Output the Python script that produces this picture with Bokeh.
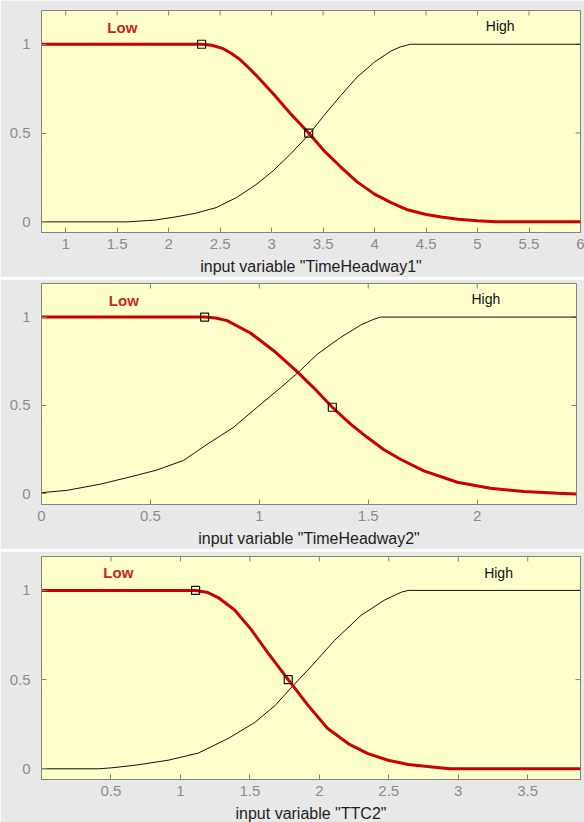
from bokeh.plotting import figure
from bokeh.layouts import column
from bokeh.models import Range1d, FixedTicker, NumeralTickFormatter
from bokeh.core.properties import value
from bokeh.embed import file_html
from bokeh.resources import INLINE

# ---------------- data ----------------
# Panel 1: TimeHeadway1
p1_xlim = [0.765, 6.0]
p1_xticks = [1, 1.5, 2, 2.5, 3, 3.5, 4, 4.5, 5, 5.5, 6]
p1_low_x = [0.765, 2.32, 2.42, 2.53, 2.61, 2.69, 2.77, 2.85, 3.02, 3.18, 3.36, 3.51, 3.67, 3.83, 4.00, 4.16, 4.32, 4.49, 4.65, 4.81, 5.0, 5.17, 6.0]
p1_low_y = [1, 1, 0.994, 0.975, 0.948, 0.915, 0.872, 0.825, 0.718, 0.612, 0.50, 0.40, 0.31, 0.225, 0.156, 0.108, 0.068, 0.043, 0.027, 0.015, 0.006, 0, 0]
p1_high_x = [0.765, 1.6, 1.87, 2.07, 2.26, 2.46, 2.66, 2.85, 3.02, 3.18, 3.36, 3.51, 3.67, 3.83, 4.00, 4.16, 4.25, 4.35, 6.0]
p1_high_y = [0, 0, 0.01, 0.028, 0.048, 0.08, 0.137, 0.21, 0.29, 0.38, 0.49, 0.60, 0.71, 0.815, 0.90, 0.962, 0.985, 1, 1]
p1_mark_x = [2.32, 3.36]
p1_mark_y = [1.0, 0.5]
p1_label_x = [1.55, 5.22]
p1_label_y = [1.096, 1.10]
p1_title = 'input variable "TimeHeadway1"'

# Panel 2: TimeHeadway2
p2_xlim = [0.0, 2.456]
p2_xticks = [0, 0.5, 1, 1.5, 2]
p2_low_x = [0, 0.749, 0.80, 0.852, 0.959, 1.066, 1.166, 1.25, 1.335, 1.419, 1.495, 1.572, 1.648, 1.755, 1.909, 2.06, 2.215, 2.37, 2.456]
p2_low_y = [1, 1, 0.995, 0.98, 0.91, 0.81, 0.70, 0.60, 0.49, 0.395, 0.32, 0.25, 0.196, 0.13, 0.066, 0.032, 0.013, 0.003, 0]
p2_high_x = [0, 0.117, 0.27, 0.42, 0.53, 0.653, 0.76, 0.88, 0.99, 1.097, 1.19, 1.266, 1.373, 1.465, 1.52, 1.556, 2.456]
p2_high_y = [0.007, 0.02, 0.055, 0.10, 0.135, 0.19, 0.28, 0.375, 0.49, 0.60, 0.70, 0.79, 0.885, 0.955, 0.985, 1.0, 1.0]
p2_mark_x = [0.749, 1.335]
p2_mark_y = [1.0, 0.49]
p2_label_x = [0.378, 2.04]
p2_label_y = [1.094, 1.10]
p2_title = 'input variable "TimeHeadway2"'

# Panel 3: TTC2
p3_xlim = [0.0, 3.88]
p3_xticks = [0.5, 1, 1.5, 2, 2.5, 3, 3.5]
p3_low_x = [0, 1.109, 1.19, 1.272, 1.39, 1.51, 1.63, 1.776, 1.92, 2.06, 2.21, 2.35, 2.495, 2.64, 2.83, 2.94, 3.88]
p3_low_y = [1, 1, 0.99, 0.96, 0.89, 0.78, 0.65, 0.50, 0.354, 0.226, 0.14, 0.085, 0.048, 0.024, 0.009, 0, 0]
p3_high_x = [0, 0.41, 0.5, 0.673, 0.912, 1.128, 1.344, 1.536, 1.68, 1.81, 1.944, 2.11, 2.30, 2.47, 2.59, 2.64, 3.88]
p3_high_y = [0, 0, 0.005, 0.02, 0.048, 0.088, 0.17, 0.26, 0.354, 0.465, 0.576, 0.72, 0.86, 0.946, 0.99, 1.0, 1.0]
p3_mark_x = [1.109, 1.776]
p3_mark_y = [1.0, 0.5]
p3_label_x = [0.553, 3.29]
p3_label_y = [1.098, 1.10]
p3_title = 'input variable "TTC2"'

mf_names = ["Low", "High"]
y_lim = [-0.06, 1.19]
y_ticks = [0, 0.5, 1]

# ---------------- styling ----------------
FONT = "Liberation Sans"
GRAY = "#e8e8e8"
YEL = "#ffffcc"
BOX = "#84847a"
TICKC = "#8c8c8c"
RED = "#cc0000"
TICK_PX = 5


def make_panel(xlim, xticks, low_x, low_y, high_x, high_y, mx, my, lx, ly, title,
               frame_w, frame_h, border_l, border_t, border_b):
    p = figure(frame_width=frame_w, frame_height=frame_h,
               x_range=Range1d(xlim[0], xlim[1]), y_range=Range1d(y_lim[0], y_lim[1]),
               output_backend="svg", toolbar_location=None,
               min_border_left=border_l, min_border_right=8,
               min_border_top=border_t, min_border_bottom=border_b,
               background_fill_color=YEL, border_fill_color=GRAY,
               outline_line_color=BOX, outline_line_width=1)
    p.grid.visible = False

    for ax in (p.xaxis[0], p.yaxis[0]):
        ax.axis_line_color = BOX
        ax.major_tick_line_color = BOX
        ax.major_tick_in = TICK_PX
        ax.major_tick_out = 0
        ax.minor_tick_line_color = None
        ax.major_label_text_font = FONT
        ax.major_label_text_font_size = "15px"
        ax.major_label_text_color = TICKC
        ax.formatter = NumeralTickFormatter(format="0.[0]")
    p.xaxis[0].ticker = FixedTicker(ticks=xticks)
    p.yaxis[0].ticker = FixedTicker(ticks=y_ticks)
    p.xaxis[0].major_label_standoff = 6
    p.yaxis[0].major_label_standoff = 11
    p.xaxis[0].axis_label = title
    p.xaxis[0].axis_label_text_font = FONT
    p.xaxis[0].axis_label_text_font_size = "16px"
    p.xaxis[0].axis_label_text_font_style = "normal"
    p.xaxis[0].axis_label_text_color = "#1e1e1e"
    p.xaxis[0].axis_label_standoff = 6

    # mirrored inward ticks on the top and right edges of the box
    dy = TICK_PX * (y_lim[1] - y_lim[0]) / frame_h
    dx = TICK_PX * (xlim[1] - xlim[0]) / frame_w
    p.segment(x0=xticks, y0=[y_lim[1]] * len(xticks), x1=xticks, y1=[y_lim[1] - dy] * len(xticks),
              line_color=BOX, line_width=1)
    p.segment(x0=[xlim[1]] * len(y_ticks), y0=y_ticks, x1=[xlim[1] - dx] * len(y_ticks), y1=y_ticks,
              line_color=BOX, line_width=1)

    p.line(high_x, high_y, line_color="#111111", line_width=1)
    p.line(low_x, low_y, line_color=RED, line_width=3)
    p.scatter(mx, my, marker="square", size=8, fill_color=None,
              line_color="#111111", line_width=1.2)

    p.text([lx[0]], [ly[0]], text=[mf_names[0]], text_font=value(FONT),
           text_font_size="15px", text_font_style="bold", text_color="#c8281e",
           text_align="center", text_baseline="middle")
    p.text([lx[1]], [ly[1]], text=[mf_names[1]], text_font=value(FONT),
           text_font_size="14px", text_color="#111111",
           text_align="center", text_baseline="middle")
    return p


f1 = make_panel(p1_xlim, p1_xticks, p1_low_x, p1_low_y, p1_high_x, p1_high_y,
                p1_mark_x, p1_mark_y, p1_label_x, p1_label_y, p1_title,
                539, 222, 37, 10, 44)
f2 = make_panel(p2_xlim, p2_xticks, p2_low_x, p2_low_y, p2_high_x, p2_high_y,
                p2_mark_x, p2_mark_y, p2_label_x, p2_label_y, p2_title,
                535, 221, 41, 4, 43)
f3 = make_panel(p3_xlim, p3_xticks, p3_low_x, p3_low_y, p3_high_x, p3_high_y,
                p3_mark_x, p3_mark_y, p3_label_x, p3_label_y, p3_title,
                539, 223, 37, 5, 45)

layout = column(f1, f2, f3, spacing=2)
open("out.html", "w").write(file_html(layout, INLINE))
